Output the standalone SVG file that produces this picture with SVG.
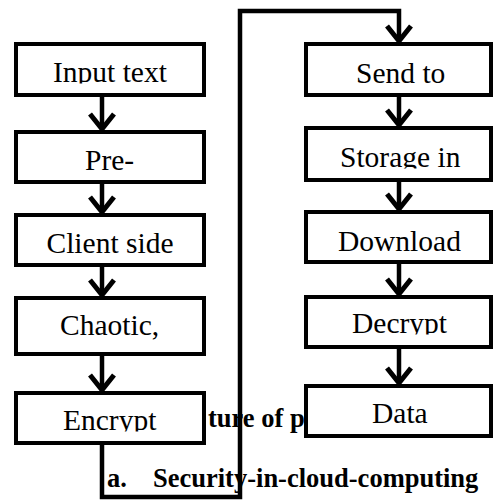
<svg xmlns="http://www.w3.org/2000/svg" width="494" height="501" viewBox="0 0 494 501">
  <style>
    .box { fill: #ffffff; stroke: #000000; stroke-width: 4; }
    .wire { fill: none; stroke: #000000; stroke-width: 4.5; stroke-linejoin: miter; }
    .head { fill: none; stroke: #000000; stroke-width: 5; stroke-linejoin: miter; stroke-linecap: butt; }
    .cover { fill: #ffffff; stroke: none; }
  </style>
  <rect x="0" y="0" width="494" height="501" fill="#ffffff"/>

  <g id="n1">
    <rect class="box" x="16" y="44" width="188" height="51"/>
    <text x="53" y="82" font-family="Liberation Serif" font-size="29.5">Input text</text>
    <rect class="cover" x="18" y="83.5" width="184" height="9.5"/>
  </g>
  <g id="n2">
    <rect class="box" x="16" y="132" width="188" height="50"/>
    <text x="85" y="170" font-family="Liberation Serif" font-size="29.5">Pre-</text>
  </g>
  <g id="n3">
    <rect class="box" x="16" y="215" width="188" height="50"/>
    <text x="46.5" y="253" font-family="Liberation Serif" font-size="29.5">Client side</text>
  </g>
  <g id="n4">
    <rect class="box" x="16" y="298" width="188" height="56"/>
    <text x="60" y="335" font-family="Liberation Serif" font-size="29.5">Chaotic,</text>
  </g>
  <g id="n5">
    <rect class="box" x="16" y="393" width="188" height="50"/>
    <text x="63" y="430" font-family="Liberation Serif" font-size="29.5">Encrypt</text>
    <rect class="cover" x="18" y="431.5" width="184" height="9.5"/>
  </g>
  <g id="n6">
    <rect class="box" x="306" y="44" width="185" height="51"/>
    <text x="356" y="83" font-family="Liberation Serif" font-size="29.5">Send to</text>
  </g>
  <g id="n7">
    <rect class="box" x="306" y="128" width="185" height="52"/>
    <text x="340" y="167" font-family="Liberation Serif" font-size="29.5">Storage in</text>
    <rect class="cover" x="308" y="168.5" width="181" height="9.5"/>
  </g>
  <g id="n8">
    <rect class="box" x="306" y="212" width="185" height="50"/>
    <text x="338" y="251" font-family="Liberation Serif" font-size="29.5">Download</text>
  </g>
  <g id="n9">
    <rect class="box" x="306" y="297" width="185" height="50"/>
    <text x="352" y="333" font-family="Liberation Serif" font-size="29.5">Decrypt</text>
    <rect class="cover" x="308" y="334.5" width="181" height="10.5"/>
  </g>

  <g id="caption">
    <text x="208" y="427" font-family="Liberation Serif" font-size="26.5" font-weight="bold">ture of p</text>
    <text x="107" y="487" font-family="Liberation Serif" font-size="26.5" font-weight="bold">a.</text>
    <text x="153" y="487" font-family="Liberation Serif" font-size="26.5" font-weight="bold">Security-in-cloud-computing</text>
  </g>

  <g id="connectors">
    <path class="wire" d="M102,95 V128"/>
    <path class="head" d="M90,114 L102,129 L114,114"/>
    <path class="wire" d="M102,182 V211"/>
    <path class="head" d="M90,197 L102,212 L114,197"/>
    <path class="wire" d="M102,265 V294"/>
    <path class="head" d="M90,280 L102,295 L114,280"/>
    <path class="wire" d="M102,354 V389"/>
    <path class="head" d="M90,375 L102,390 L114,375"/>
    <path class="wire" d="M102,443 V497 H240 V11 H399 V40"/>
    <path class="head" d="M387,26 L399,41 L411,26"/>
    <path class="wire" d="M399,95 V124"/>
    <path class="head" d="M387,110 L399,125 L411,110"/>
    <path class="wire" d="M399,180 V208"/>
    <path class="head" d="M387,194 L399,209 L411,194"/>
    <path class="wire" d="M399,262 V293"/>
    <path class="head" d="M387,279 L399,294 L411,279"/>
    <path class="wire" d="M399,347 V382"/>
    <path class="head" d="M387,368 L399,383 L411,368"/>
  </g>

  <g id="n10">
    <rect class="box" x="306" y="386" width="185" height="50"/>
    <text x="372" y="423" font-family="Liberation Serif" font-size="29.5">Data</text>
  </g>
</svg>
